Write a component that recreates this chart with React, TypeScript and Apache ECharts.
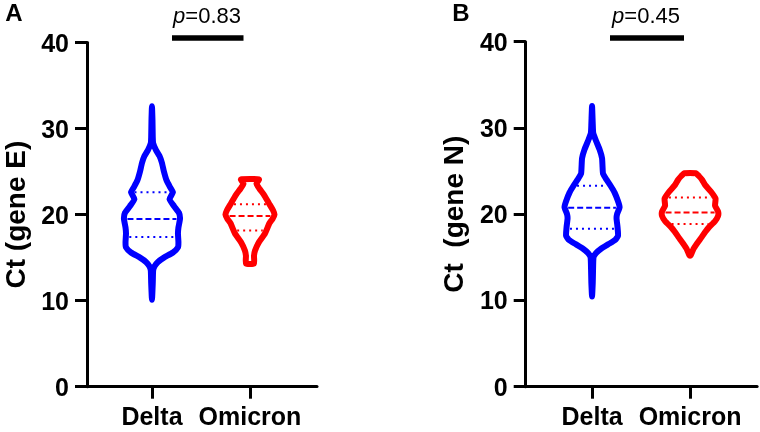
import React, { useEffect, useRef } from "react";
import * as echarts from "echarts";

// ---------- data ----------
const categories = ["Delta", "Omicron"];
const yTicks = [0, 10, 20, 30, 40];

// violin profiles: [Ct value, half-width in category units]
const deltaE: number[][] = [
  [32.6, 0], [31.0, 0.005], [29.0, 0.008], [28.3, 0.012], [27.5, 0.041], [26.8, 0.077],
  [26.0, 0.102], [25.0, 0.122], [24.0, 0.148], [23.2, 0.184], [22.6, 0.214], [21.8, 0.179],
  [21.0, 0.224], [20.2, 0.276], [19.5, 0.286], [18.5, 0.27], [17.8, 0.265], [16.8, 0.27],
  [16.2, 0.265], [15.6, 0.214], [15.0, 0.122], [14.5, 0.061], [14.0, 0.026], [13.5, 0.012],
  [12.0, 0.008], [10.1, 0],
];
const omicronE: number[][] = [
  [24.1, 0.092], [23.6, 0.066], [23.0, 0.097], [22.3, 0.143], [21.3, 0.194], [20.5, 0.235],
  [20.0, 0.25], [19.5, 0.23], [19.0, 0.199], [17.8, 0.153], [16.7, 0.087], [15.8, 0.051],
  [15.2, 0.041], [14.3, 0.041],
];
const deltaN: number[][] = [
  [32.55, 0], [30.5, 0.007], [29.4, 0.012], [28.5, 0.041], [27.5, 0.077], [26.5, 0.102],
  [25.5, 0.107], [24.7, 0.112], [24.0, 0.148], [23.3, 0.189], [22.5, 0.23], [21.5, 0.265],
  [20.8, 0.281], [20.0, 0.255], [19.5, 0.25], [18.5, 0.26], [17.5, 0.265], [17.0, 0.235],
  [16.5, 0.163], [16.0, 0.092], [15.5, 0.041], [15.0, 0.015], [13.5, 0.01], [12.0, 0.007],
  [10.45, 0],
];
const omicronN: number[][] = [
  [24.75, 0.056], [24.4, 0.092], [24.0, 0.122], [23.4, 0.153], [22.6, 0.214], [21.8, 0.26],
  [21.0, 0.255], [20.3, 0.286], [19.8, 0.286], [19.2, 0.255], [18.5, 0.194], [18.0, 0.158],
  [17.4, 0.122], [16.6, 0.071], [16.0, 0.036], [15.2, 0.005],
];

// quartiles [Q1, median, Q3]
const deltaEQ = [17.4, 19.5, 22.6];
const omicronEQ = [18.15, 19.85, 21.2];
const deltaNQ = [18.3, 20.75, 23.3];
const omicronNQ = [18.85, 20.2, 21.95];

const pValues = ["0.83", "0.45"];
const yTitles = ["Ct (gene E)", "Ct  (gene N)"];
const panelLetters = ["A", "B"];

const BLUE = "#0000ff";
const RED = "#ff0000";
const FONT = "'Liberation Sans', Arial, Helvetica, sans-serif";

function interp(profile: number[][], v: number): number {
  for (let i = 0; i < profile.length - 1; i++) {
    const [y0, w0] = profile[i];
    const [y1, w1] = profile[i + 1];
    if ((v <= y0 && v >= y1) || (v >= y0 && v <= y1)) {
      const t = (v - y0) / (y1 - y0 || 1);
      return w0 + t * (w1 - w0);
    }
  }
  return 0;
}

function makeRender(profile: number[][], q: number[], center: number, color: string) {
  return (_params: any, api: any) => {
    const right = profile.map(([ct, w]) => api.coord([center + w, ct]));
    const left = profile
      .slice()
      .reverse()
      .filter(([, w]) => w > 0)
      .map(([ct, w]) => api.coord([center - w, ct]));
    const pts = right.concat(left);
    const children: any[] = [
      {
        type: "polygon",
        shape: { points: pts, smooth: 0.15 },
        style: { fill: "transparent", stroke: color, lineWidth: 6, lineJoin: "round" },
      },
    ];
    q.forEach((v, i) => {
      const w = interp(profile, v);
      const a = api.coord([center - w, v]);
      const b = api.coord([center + w, v]);
      children.push({
        type: "line",
        shape: { x1: a[0] + 3.5, y1: a[1], x2: b[0] - 3.5, y2: b[1] },
        style: { stroke: color, lineWidth: 2, lineDash: i === 1 ? [6, 3] : [2, 4] },
      });
    });
    return { type: "group", children };
  };
}

export default function App() {
  const ref = useRef<HTMLDivElement>(null);
  useEffect(() => {
    if (!ref.current) return;
    document.body.style.margin = "0";
    const chart = echarts.init(ref.current, null, { renderer: "svg" });

    const mkX = (gridIndex: number, min: number, max: number) => ({
      type: "value",
      gridIndex,
      min,
      max,
      splitLine: { show: false },
      axisLine: { show: true, onZero: false, lineStyle: { color: "#000", width: 3 } },
      axisTick: { show: true, customValues: [1, 2], length: 12, lineStyle: { color: "#000", width: 3 } },
      axisLabel: {
        customValues: [1, 2],
        formatter: (v: number) => categories[Math.round(v) - 1] ?? "",
        color: "#000",
        fontSize: 25,
        fontWeight: "bold",
        fontFamily: FONT,
        margin: 17,
      },
    });
    const mkY = (gridIndex: number, name: string) => ({
      type: "value",
      gridIndex,
      min: yTicks[0],
      max: yTicks[yTicks.length - 1],
      interval: 10,
      splitLine: { show: false },
      axisLine: { show: true, onZero: false, lineStyle: { color: "#000", width: 3 } },
      axisTick: { show: true, length: 12, lineStyle: { color: "#000", width: 3 } },
      axisLabel: { color: "#000", fontSize: 25, fontWeight: "bold", fontFamily: FONT, margin: 18 },
      name,
      nameLocation: "middle",
      nameRotate: 90,
      nameGap: 58,
      nameTextStyle: { color: "#000", fontSize: 28, fontWeight: "bold", fontFamily: FONT },
    });

    const violins = [
      { profile: deltaE, q: deltaEQ, center: 1, color: BLUE, g: 0 },
      { profile: omicronE, q: omicronEQ, center: 2, color: RED, g: 0 },
      { profile: deltaN, q: deltaNQ, center: 1, color: BLUE, g: 1 },
      { profile: omicronN, q: omicronNQ, center: 2, color: RED, g: 1 },
    ];

    const pText = (x: number, y: number, p: string) => ({
      type: "text",
      x,
      y,
      style: {
        text: "{i|p}=" + p,
        rich: { i: { fontStyle: "italic", fontSize: 22, fontFamily: FONT, fill: "#000" } },
        fontSize: 22,
        fontFamily: FONT,
        fill: "#000",
        align: "center",
        verticalAlign: "middle",
      },
    });
    const letter = (x: number, t: string) => ({
      type: "text",
      x,
      y: 12,
      style: { text: t, fontSize: 24, fontWeight: "bold", fontFamily: FONT, fill: "#000", align: "center", verticalAlign: "middle" },
    });

    chart.setOption({
      animation: false,
      grid: [
        { left: 87, top: 42.5, width: 230, height: 344.2 },
        { left: 525.7, top: 41.7, width: 231.4, height: 345 },
      ],
      xAxis: [mkX(0, 0.337, 2.684), mkX(1, 0.323, 2.684)],
      yAxis: [mkY(0, yTitles[0]), mkY(1, yTitles[1])],
      series: violins.map((v) => ({
        type: "custom",
        xAxisIndex: v.g,
        yAxisIndex: v.g,
        data: [[v.center, v.q[1]]],
        encode: { x: 0, y: 1 },
        clip: false,
        renderItem: makeRender(v.profile, v.q, v.center, v.color),
      })),
      graphic: [
        letter(14, panelLetters[0]),
        letter(461, panelLetters[1]),
        pText(207, 15, pValues[0]),
        pText(646, 15, pValues[1]),
        { type: "rect", shape: { x: 172, y: 35.3, width: 71.5, height: 5.5 }, style: { fill: "#000" } },
        { type: "rect", shape: { x: 610, y: 35.3, width: 74, height: 5.5 }, style: { fill: "#000" } },
      ],
    });
    return () => chart.dispose();
  }, []);
  return <div ref={ref} style={{ position: "fixed", left: 0, top: 0, width: 760, height: 432 }} />;
}
